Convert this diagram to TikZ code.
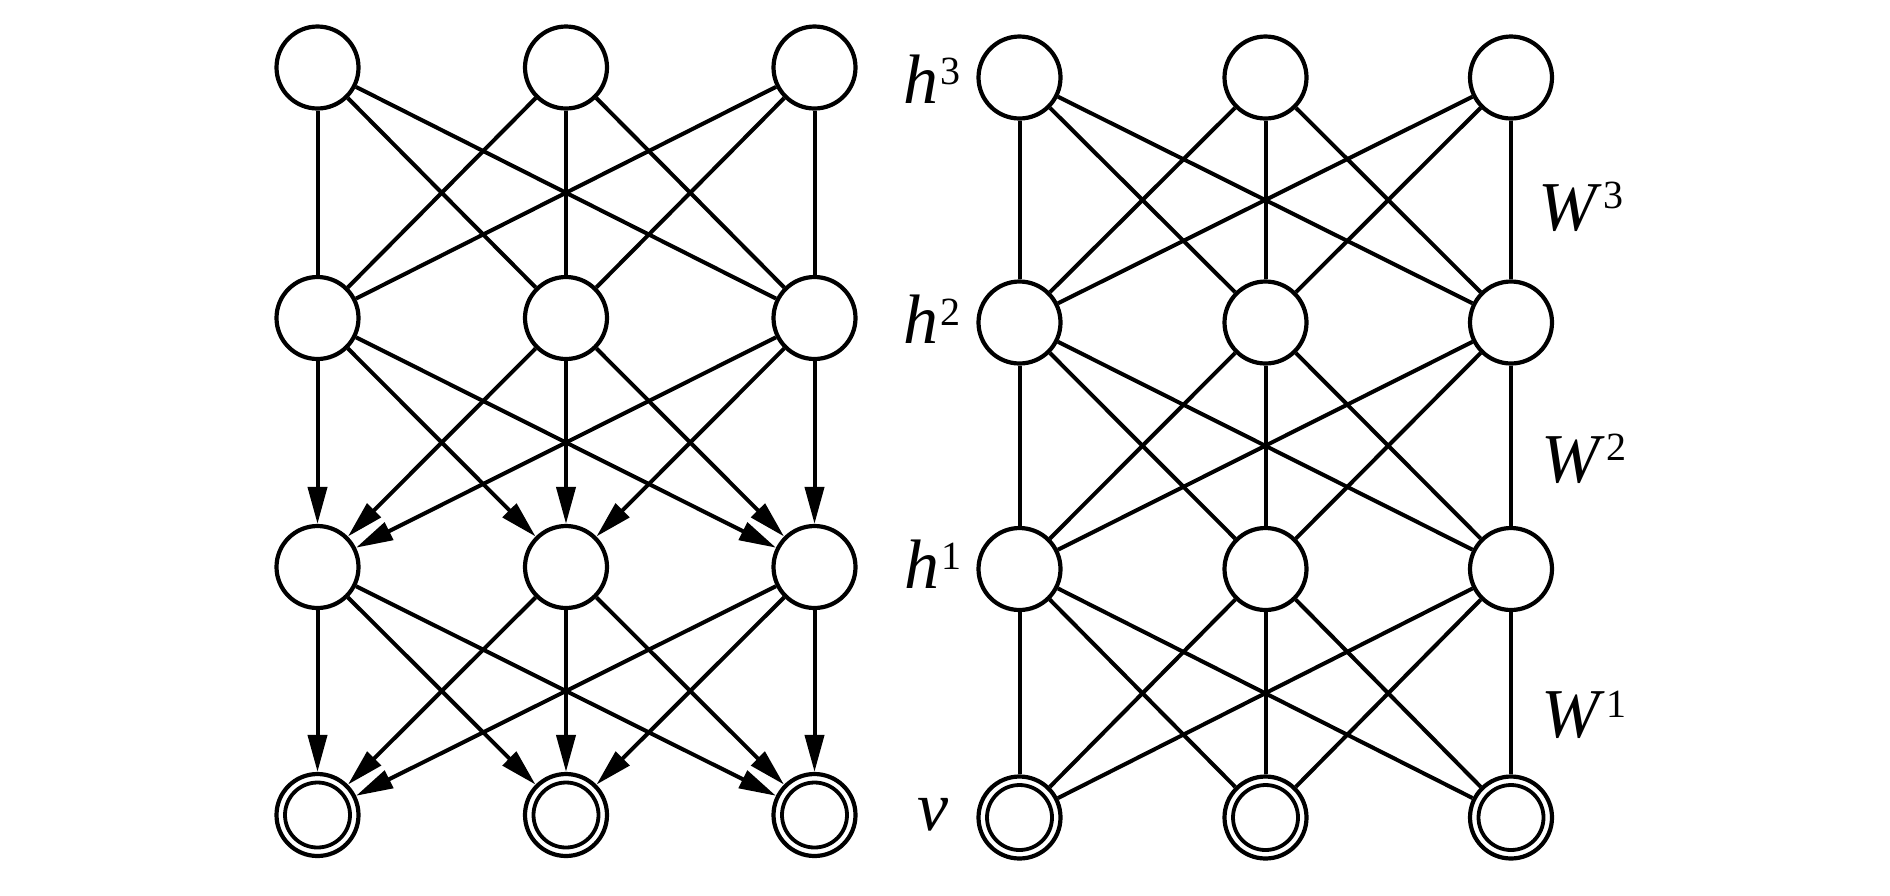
\documentclass[tikz,border=0pt]{standalone}
\usepackage{fontspec}
\setmainfont{Liberation Serif}
\usetikzlibrary{arrows.meta}
\newcommand\lbl[3]{\textit{#1}\kern2pt\raisebox{#3pt}{\fontsize{40}{40}\selectfont #2}}
\begin{document}
\begin{tikzpicture}[x=1pt,y=-1pt,
  neuron/.style={circle,draw,line width=4.2pt,minimum size=82pt,inner sep=0pt},
  visible/.style={neuron,path picture={\draw[line width=3.8pt] (path picture bounding box.center) circle (32.5pt);}},
  conn/.style={line width=4pt},
  arr/.style={line width=4pt,-{Triangle[length=37pt,width=19pt]}},
  lab/.style={anchor=base west,inner sep=0pt,font=\fontsize{70}{80}\selectfont}]
\useasboundingbox (0,0) rectangle (1890,895);
% left network
\foreach \i/\x in {1/317.5,2/566,3/814.5}{
  \node[neuron] (L3\i) at (\x,67.5) {};
  \node[neuron] (L2\i) at (\x,318) {};
  \node[neuron] (L1\i) at (\x,567) {};
  \node[visible] (L0\i) at (\x,815) {};
}
% right network
\foreach \i/\x in {1/1019.5,2/1265.5,3/1511}{
  \node[neuron] (R3\i) at (\x,77.5) {};
  \node[neuron] (R2\i) at (\x,322.5) {};
  \node[neuron] (R1\i) at (\x,569) {};
  \node[visible] (R0\i) at (\x,817.5) {};
}
\foreach \i in {1,2,3}{
  \foreach \j in {1,2,3}{
    \draw[conn] (L3\i) -- (L2\j);
    \draw[arr] (L2\i) -- (L1\j);
    \draw[arr] (L1\i) -- (L0\j);
    \draw[conn] (R3\i) -- (R2\j);
    \draw[conn] (R2\i) -- (R1\j);
    \draw[conn] (R1\i) -- (R0\j);
  }
}
% labels
\node[lab] (lh3) at (903,103) {\lbl{h}{3}{19}};
\node[lab] (lh2) at (903,343) {\lbl{h}{2}{18}};
\node[lab] (lh1) at (904,588) {\lbl{h}{1}{19}};
\node[lab] (lv) at (917,830) {\textit{v}};
\node[lab] (lw3) at (1538,230) {\lbl{W}{3}{22}};
\node[lab] (lw2) at (1541,482) {\lbl{W}{2}{22}};
\node[lab] (lw1) at (1541,737) {\lbl{W}{1}{20}};
\end{tikzpicture}
\end{document}
